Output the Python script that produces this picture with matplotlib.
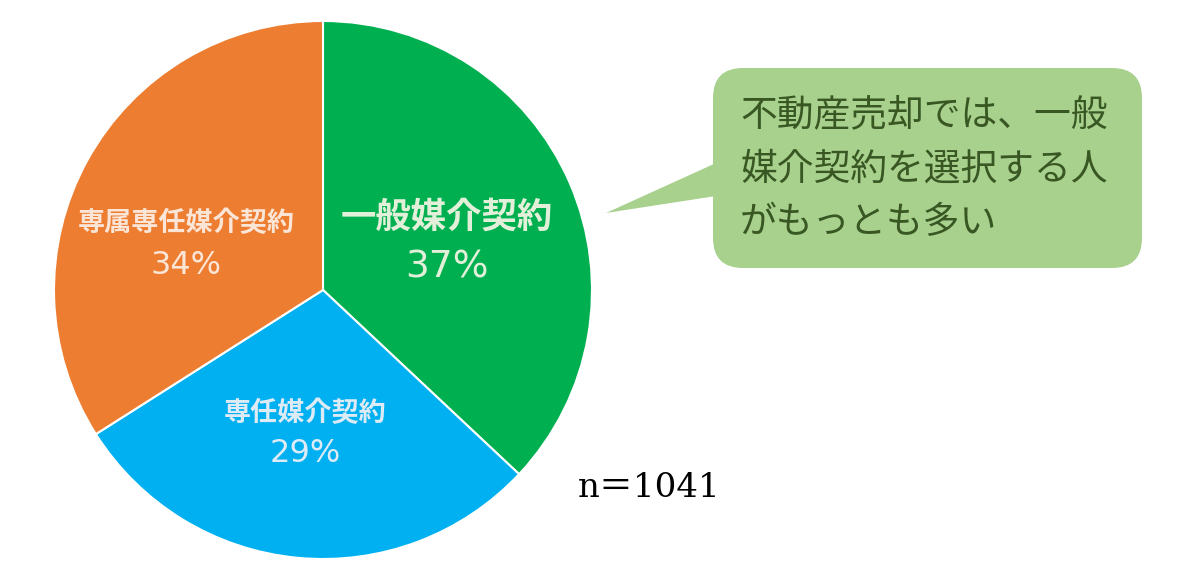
import matplotlib
matplotlib.use("Agg")
import matplotlib.pyplot as plt
from matplotlib.patches import FancyBboxPatch, Polygon

plt.rcParams['font.family'] = ['Noto Sans CJK JP', 'DejaVu Sans']

labels = ['一般媒介契約', '専任媒介契約', '専属専任媒介契約']
shares = [37, 29, 34]
colors = ['#00b050', '#00b0f0', '#ed7d31']
text_colors = ['#e2f0d9', '#ddebf7', '#fbe5d6']
sample_size = 1041
callout_lines = ['不動産売却では、一般', '媒介契約を選択する人', 'がもっとも多い']

W, H = 1200, 572
fig = plt.figure(figsize=(12, 5.72), dpi=100)
ax = fig.add_axes([0, 0, 1, 1])

cx, cy, r = 323, H - 290, 269
ax.pie(shares, colors=colors, startangle=90, counterclock=False,
       center=(cx, cy), radius=r, frame=True,
       wedgeprops=dict(edgecolor='white', linewidth=1.5))
ax.set_xlim(0, W)
ax.set_ylim(0, H)
ax.set_aspect('equal')
ax.axis('off')

# slice labels (positions in pixels from the top-left)
label_pos = [(447, 217, 267, 25.5, 27), (305, 413, 453, 19.5, 23), (186, 223, 266, 19.5, 23)]
for lab, val, tc, (x, y1, y2, fs1, fs2) in zip(labels, shares, text_colors, label_pos):
    ax.text(x, H - y1, lab, ha='center', va='center', color=tc,
            fontsize=fs1, fontweight='bold')
    ax.text(x, H - y2, f'{val}%', ha='center', va='center', color=tc,
            fontsize=fs2, family=['DejaVu Sans'])

# callout bubble
box = FancyBboxPatch((713, H - 268), 1142 - 713, 200,
                     boxstyle='round,pad=0,rounding_size=30',
                     facecolor='#a9d18e', edgecolor='none')
ax.add_patch(box)
tail = Polygon([(606, H - 213), (716, H - 163), (716, H - 196)],
               closed=True, facecolor='#a9d18e', edgecolor='none')
ax.add_patch(tail)
for i, line in enumerate(callout_lines):
    ax.text(740, H - (115 + i * 54), line, ha='left', va='center',
            color='#385723', fontsize=26.5)

ax.text(578, H - 488, f'n＝{sample_size}', ha='left', va='center',
        color='black', fontsize=24.5,
        family=['DejaVu Serif', 'Noto Sans CJK JP'])

fig.savefig('out.png', dpi=100)
